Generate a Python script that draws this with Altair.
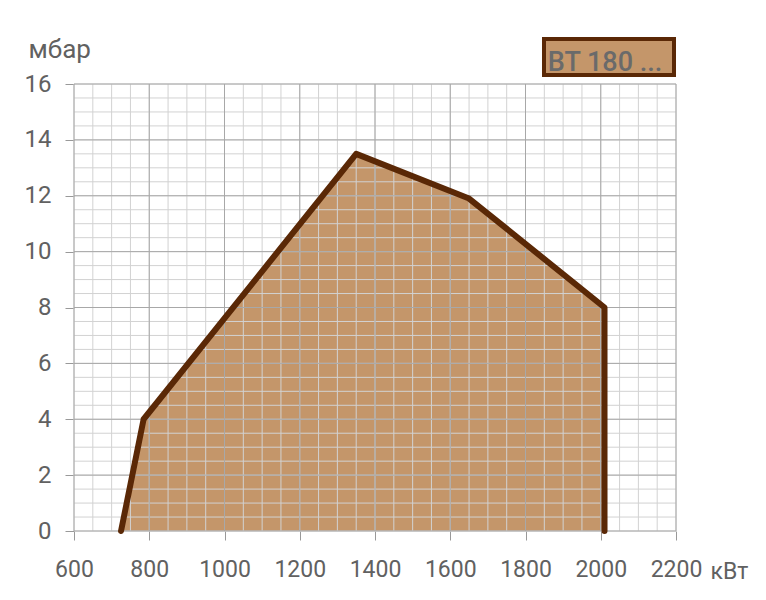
import altair as alt
import numpy as np
import pandas as pd

# Curve points (kW, mbar)
power_kw = [725, 785, 1350, 1650, 2010, 2010]
pressure_mbar = [0, 4, 13.5, 11.9, 8, 0]

x_major = list(range(600, 2201, 200))
y_major = list(range(0, 17, 2))
x_minor = list(np.arange(600, 2201, 50))
y_minor = list(np.arange(0, 16.01, 0.5))

legend_label = "BT 180 ..."

W, H = 602, 447
FILL = "#C4966A"
STROKE = "#5A2806"
TXT = "#616161"
FONT = "Roboto"

curve = pd.DataFrame({"kw": power_kw, "mbar": pressure_mbar, "i": range(len(power_kw))})
area_df = curve.iloc[:-1]

xs = alt.Scale(domain=[600, 2200], nice=False, zero=False)
ys = alt.Scale(domain=[0, 16], nice=False)

x_axis = alt.Axis(values=x_major, grid=False, domain=False, format="d",
                  labelFlush=False, labelOverlap=False, labelBound=False,
                  tickSize=9, tickColor="#999", labelPadding=18,
                  labelFontSize=23, labelColor=TXT, labelFont=FONT,
                  title="кВт", titleX=636, titleY=47, titleAlign="left",
                  titleBaseline="alphabetic", titleFontSize=23, titleFontWeight="normal",
                  titleColor=TXT, titleFont=FONT)
y_axis = alt.Axis(values=y_major, grid=False, domain=False, format="d",
                  labelFlush=False, labelOverlap=False, labelBound=False,
                  tickSize=9, tickColor="#999", labelPadding=14,
                  labelFontSize=24, labelColor=TXT, labelFont=FONT,
                  title="мбар", titleAngle=0, titleX=-46, titleY=-27, titleAlign="left",
                  titleBaseline="alphabetic", titleFontSize=26, titleFontWeight="normal",
                  titleColor=TXT, titleFont=FONT)

area = alt.Chart(area_df).mark_area(color=FILL, opacity=1).encode(
    x=alt.X("kw:Q", scale=xs, axis=x_axis),
    y=alt.Y("mbar:Q", scale=ys, axis=y_axis),
)

vminor = alt.Chart(pd.DataFrame({"v": x_minor})).mark_rule(color="#d2d2d2", strokeWidth=1).encode(
    x=alt.X("v:Q", scale=xs), y=alt.datum(0), y2=alt.datum(16))
hminor = alt.Chart(pd.DataFrame({"v": y_minor})).mark_rule(color="#d2d2d2", strokeWidth=1).encode(
    y=alt.Y("v:Q", scale=ys), x=alt.datum(600), x2=alt.datum(2200))
vmajor = alt.Chart(pd.DataFrame({"v": x_major})).mark_rule(color="#a8a8a8", strokeWidth=1).encode(
    x=alt.X("v:Q", scale=xs), y=alt.datum(0), y2=alt.datum(16))
hmajor = alt.Chart(pd.DataFrame({"v": y_major})).mark_rule(color="#a8a8a8", strokeWidth=1).encode(
    y=alt.Y("v:Q", scale=ys), x=alt.datum(600), x2=alt.datum(2200))

line = alt.Chart(curve).mark_line(color=STROKE, strokeWidth=6, strokeCap="round",
                                  strokeJoin="round").encode(
    x=alt.X("kw:Q", scale=xs), y=alt.Y("mbar:Q", scale=ys), order="i:Q")

box = alt.Chart(pd.DataFrame({"t": [legend_label]})).mark_rect(
    fill=FILL, stroke=STROKE, strokeWidth=4).encode(
    x=alt.value(470), x2=alt.value(600), y=alt.value(-45), y2=alt.value(-9))
box_text = alt.Chart(pd.DataFrame({"t": [legend_label]})).mark_text(
    font=FONT, fontSize=27, fontWeight=500, color="#6a6a6a",
    align="center", baseline="alphabetic").encode(
    x=alt.value(531), y=alt.value(-13), text="t:N")

chart = alt.layer(area, vminor, hminor, vmajor, hmajor, line, box, box_text).properties(
    width=W, height=H,
    autosize=alt.AutoSizeParams(type="none"),
    padding={"left": 66, "top": 76, "right": 82, "bottom": 61},
).configure_view(stroke=None)

chart.save("out.html", embed_options={"renderer": "svg", "actions": False})
